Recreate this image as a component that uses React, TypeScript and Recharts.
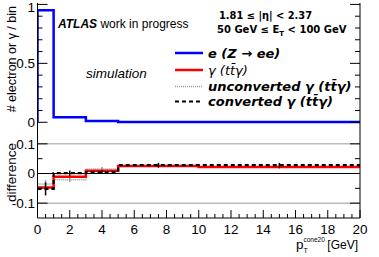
import React from 'react';
import { ComposedChart, Line, XAxis, YAxis, ReferenceLine, Scatter, ErrorBar } from 'recharts';

// ---- data ----
const binEdges = [0, 1, 3, 5, 10, 20];
const eZee = [0.95, 0.042, 0.011, 0.003, 0.002];
const diffGamma = [-0.047, -0.011, 0.009, 0.025, 0.022];
const diffUnconv = [-0.035, -0.021, 0.015, 0.026, 0.021];
const diffConv = [-0.052, 0.001, 0.005, 0.028, 0.028];
const binCenters = [0.5, 2, 4, 7.5, 15];
const errConv = [0.022, 0.009, 0.006, 0.008, 0.008];
const errUnconv = [0.013, 0.008, 0.007, 0.006, 0.006];

const xTicks = [0, 0.5, 1, 1.5, 2, 2.5, 3, 3.5, 4, 4.5, 5, 5.5, 6, 6.5, 7, 7.5, 8, 8.5, 9, 9.5, 10, 10.5, 11, 11.5, 12, 12.5, 13, 13.5, 14, 14.5, 15, 15.5, 16, 16.5, 17, 17.5, 18, 18.5, 19, 19.5, 20];
const xMajor = [0, 2, 4, 6, 8, 10, 12, 14, 16, 18, 20];
const topYTicks = [0, 0.1, 0.2, 0.3, 0.4, 0.5, 0.6, 0.7, 0.8, 0.9, 1];
const topYMajor = [0, 0.5, 1];
const botYTicks = [-0.1, -0.05, 0, 0.05, 0.1];
const botYMajor = [-0.1, 0, 0.1];

const legendLabels = ['e (Z \u2192 ee)', '\u03b3 (tt\u0304\u03b3)', 'unconverted \u03b3 (tt\u0304\u03b3)', 'converted \u03b3 (tt\u0304\u03b3)'];

// ---- tables ----
const topData = [{ x: 0, v: 0 }, ...binEdges.map((e, i) => ({ x: e, v: eZee[Math.min(i, eZee.length - 1)] }))];
const botData = binEdges.map((e, i) => {
  const k = Math.min(i, diffGamma.length - 1);
  return { x: e, g: diffGamma[k], u: diffUnconv[k], c: diffConv[k] };
});
const convPts = binCenters.map((x, i) => ({ x, y: diffConv[i], e: errConv[i] }));
const unconvPts = binCenters.map((x, i) => ({ x, y: diffUnconv[i], e: errUnconv[i] }));

const FONT = 'Liberation Sans, Arial, sans-serif';
const W = 379;
const H = 257;
const TICKFS = 13.5;

const isIn = (arr: number[], v: number) => arr.some((m) => Math.abs(m - v) < 1e-9);
const fmt = (v: number) => (Math.abs(v) < 1e-9 ? '0' : String(Number(v.toFixed(2))));

function yTick(side: 'left' | 'right', majors: number[], majLen: number, minLen: number, labels: boolean) {
  return (p: any) => {
    const v = p.payload.value;
    const major = isIn(majors, v);
    const len = major ? majLen : minLen;
    const dir = side === 'left' ? 1 : -1;
    const labelY = Math.max(p.y + 4.8, 12);
    return (
      <g>
        <line x1={p.x} x2={p.x + dir * len} y1={p.y} y2={p.y} stroke="#000" strokeWidth={1} />
        {labels && major && (
          <text x={p.x - 2.5} y={labelY} textAnchor="end" fontSize={TICKFS} fontFamily={FONT} fill="#000">
            {fmt(v)}
          </text>
        )}
      </g>
    );
  };
}

function xTick(side: 'bottom' | 'top', majLen: number, minLen: number, labels: boolean) {
  return (p: any) => {
    const v = p.payload.value;
    const major = isIn(xMajor, v);
    const len = major ? majLen : minLen;
    const dir = side === 'bottom' ? -1 : 1;
    return (
      <g>
        <line x1={p.x} x2={p.x} y1={p.y} y2={p.y + dir * len} stroke="#000" strokeWidth={1} />
        {labels && major && (
          <text x={p.x} y={p.y + 16} textAnchor="middle" fontSize={TICKFS} fontFamily={FONT} fill="#000">
            {fmt(v)}
          </text>
        )}
      </g>
    );
  };
}

const axisLine = { stroke: '#000', strokeWidth: 1 };

function TopPanel() {
  return (
    <ComposedChart width={W} height={H} data={topData} margin={{ top: 3, right: 0, left: 0, bottom: 128 }}>
      <XAxis xAxisId="b" dataKey="x" type="number" domain={[0, 20]} ticks={xTicks} interval={0} allowDataOverflow
        height={0} tickSize={0} tickMargin={0} axisLine={axisLine} tickLine={false} tick={xTick('bottom', 6, 3, false)} />
      <XAxis xAxisId="t" orientation="top" dataKey="x" type="number" domain={[0, 20]} ticks={xTicks} interval={0} allowDataOverflow
        height={0} tickSize={0} tickMargin={0} axisLine={axisLine} tickLine={false} tick={xTick('top', 6, 3, false)} />
      <YAxis yAxisId="l" type="number" domain={[-0.057, 1.012]} ticks={topYTicks} interval={0} allowDataOverflow
        width={37.5} tickSize={0} tickMargin={0} axisLine={axisLine} tickLine={false} tick={yTick('left', topYMajor, 10, 5, true)} />
      <YAxis yAxisId="r" orientation="right" type="number" domain={[-0.057, 1.012]} ticks={topYTicks} interval={0} allowDataOverflow
        width={19} tickSize={0} tickMargin={0} axisLine={axisLine} tickLine={false} tick={yTick('right', topYMajor, 10, 5, false)} />
      <Line xAxisId="b" yAxisId="l" type="stepAfter" dataKey="v" stroke="#0000ff" strokeWidth={2.5} dot={false} isAnimationActive={false} />
    </ComposedChart>
  );
}

function BottomPanel() {
  return (
    <ComposedChart width={W} height={H} data={botData} margin={{ top: 129, right: 0, left: 0, bottom: 0 }}>
      <XAxis xAxisId="b" dataKey="x" type="number" domain={[0, 20]} ticks={xTicks} interval={0} allowDataOverflow
        height={39} tickSize={0} tickMargin={0} axisLine={axisLine} tickLine={false} tick={xTick('bottom', 8, 4, true)} />
      <XAxis xAxisId="t" orientation="top" dataKey="x" type="number" domain={[0, 20]} ticks={xTicks} interval={0} allowDataOverflow
        height={0} tickSize={0} tickMargin={0} axisLine={axisLine} tickLine={false} tick={xTick('top', 8, 4, false)} />
      <YAxis yAxisId="l" type="number" domain={[-0.15, 0.15]} ticks={botYTicks} interval={0} allowDataOverflow
        width={37.5} tickSize={0} tickMargin={0} axisLine={axisLine} tickLine={false} tick={yTick('left', botYMajor, 10, 5, true)} />
      <YAxis yAxisId="r" orientation="right" type="number" domain={[-0.15, 0.15]} ticks={botYTicks} interval={0} allowDataOverflow
        width={19} tickSize={0} tickMargin={0} axisLine={axisLine} tickLine={false} tick={yTick('right', botYMajor, 10, 5, false)} />
      <ReferenceLine xAxisId="b" yAxisId="l" y={0.1} stroke="#333" strokeWidth={1} strokeDasharray="1 1" />
      <ReferenceLine xAxisId="b" yAxisId="l" y={-0.1} stroke="#333" strokeWidth={1} strokeDasharray="1 1" />
      <ReferenceLine xAxisId="b" yAxisId="l" y={0} stroke="#000" strokeWidth={1.2} />
      <Line xAxisId="b" yAxisId="l" type="stepAfter" dataKey="u" stroke="#999" strokeWidth={1.5} strokeDasharray="1 1" dot={false} isAnimationActive={false} />
      <Scatter xAxisId="b" yAxisId="l" data={unconvPts} dataKey="y" shape={() => <g />} isAnimationActive={false}>
        <ErrorBar dataKey="e" direction="y" width={0} stroke="#999" strokeWidth={1.5} isAnimationActive={false} />
      </Scatter>
      <Line xAxisId="b" yAxisId="l" type="stepAfter" dataKey="g" stroke="#ff0000" strokeWidth={2.5} dot={false} isAnimationActive={false} />
      <Line xAxisId="b" yAxisId="l" type="stepAfter" dataKey="c" stroke="#000" strokeWidth={2.2} strokeDasharray="4 3" dot={false} isAnimationActive={false} />
      <Scatter xAxisId="b" yAxisId="l" data={convPts} dataKey="y" shape={() => <g />} isAnimationActive={false}>
        <ErrorBar dataKey="e" direction="y" width={0} stroke="#000" strokeWidth={1.5} isAnimationActive={false} />
      </Scatter>
    </ComposedChart>
  );
}

const LEG = 'DejaVu Sans, sans-serif';
const legendRows = [53, 70, 86.5, 101.5];

function Overlay() {
  return (
    <svg width={W} height={H} style={{ position: 'absolute', left: 0, top: 0, pointerEvents: 'none' }}>
      <text transform="translate(16,6) rotate(-90)" textAnchor="end" fontSize={12.5} fontFamily={FONT} fill="#000">
        # electron or {'\u03b3'} / bin
      </text>
      <text transform="translate(16,143) rotate(-90)" textAnchor="end" fontSize={13.5} fontFamily={FONT} fill="#000">
        difference
      </text>
      <text x={58} y={28} fontSize={12} fontFamily={FONT} fill="#000">
        <tspan fontWeight="bold" fontStyle="italic">ATLAS</tspan>
        <tspan> work in progress</tspan>
      </text>
      <text x={86} y={78} fontSize={13.5} fontStyle="italic" fontFamily={FONT} fill="#000">simulation</text>
      <text x={219} y={19} fontSize={10} fontWeight="bold" fontFamily={LEG} fill="#000" textLength={93} lengthAdjust="spacingAndGlyphs">
        1.81 {'\u2264'} |{'\u03b7'}| {'<'} 2.37
      </text>
      <text x={217} y={33} fontSize={10} fontWeight="bold" fontFamily={LEG} fill="#000">
        50 GeV {'\u2264'} E<tspan fontSize={7} dy={3}>T</tspan><tspan dy={-3}> {'<'} 100 GeV</tspan>
      </text>
      {/* legend */}
      <line x1={175} x2={203} y1={legendRows[0]} y2={legendRows[0]} stroke="#0000ff" strokeWidth={2.5} />
      <line x1={175} x2={203} y1={legendRows[1]} y2={legendRows[1]} stroke="#ff0000" strokeWidth={2.5} />
      <line x1={175} x2={203} y1={legendRows[2]} y2={legendRows[2]} stroke="#999" strokeWidth={1.5} strokeDasharray="1 1" />
      <line x1={175} x2={203} y1={legendRows[3]} y2={legendRows[3]} stroke="#000" strokeWidth={2} strokeDasharray="4 3" />
      {legendLabels.map((t, i) => (
        <text key={i} x={208} y={legendRows[i] + 4.8} fontSize={13} fontStyle="italic" fontWeight={i === 1 ? 'normal' : 'bold'} fontFamily={LEG} fill="#000">
          {t}
        </text>
      ))}
      {/* x title */}
      <text x={296} y={249} fontSize={13.5} fontFamily={FONT} fill="#000">p</text>
      <text x={303.5} y={242} fontSize={6.5} fontFamily={FONT} fill="#000">cone20</text>
      <text x={303.5} y={253} fontSize={7} fontFamily={FONT} fill="#000">T</text>
      <text x={358} y={249} textAnchor="end" fontSize={12} fontFamily={FONT} fill="#000">[GeV]</text>
    </svg>
  );
}

export default function App() {
  return (
    <div style={{ position: 'absolute', left: 0, top: 0, width: W, height: H, background: '#fff' }}>
      <div style={{ position: 'absolute', left: 0, top: 0 }}><TopPanel /></div>
      <div style={{ position: 'absolute', left: 0, top: 0 }}><BottomPanel /></div>
      <Overlay />
    </div>
  );
}
